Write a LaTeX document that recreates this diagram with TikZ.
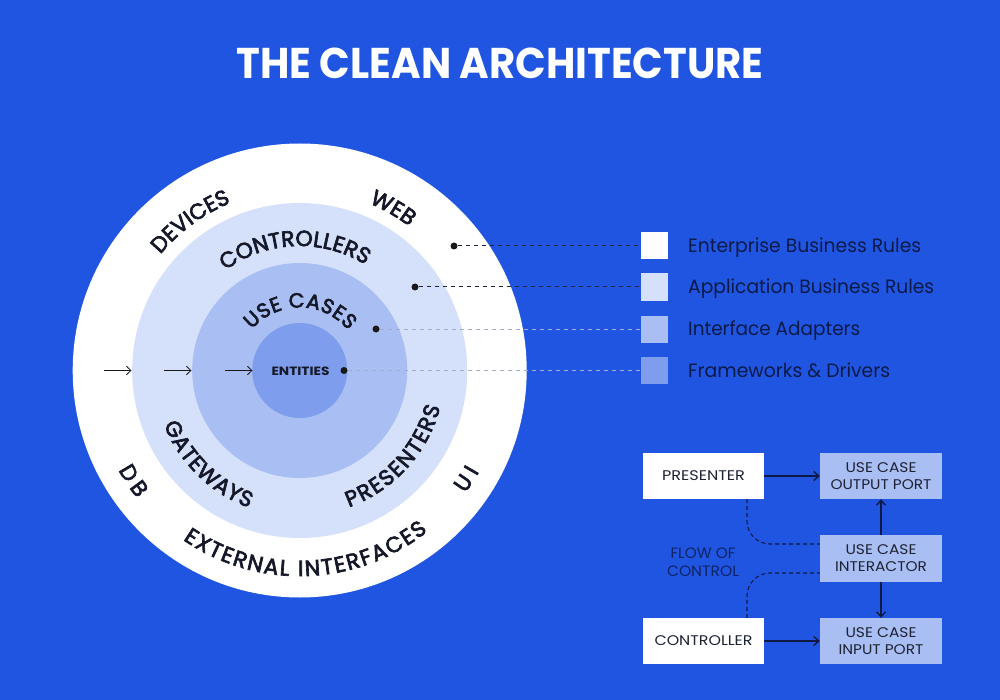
\documentclass[tikz,border=0pt]{standalone}
\usepackage{fontspec}
\setmainfont{Poppins}
\newfontfamily\labfont{Poppins}[FakeBold=3]
\usepackage{graphicx}
\usetikzlibrary{arrows.meta,decorations.text,calc}
\definecolor{bg}{HTML}{1F55E0}
\definecolor{ringA}{HTML}{D5E0FA}
\definecolor{ringB}{HTML}{A9BEF3}
\definecolor{ringC}{HTML}{7E9DEC}
\definecolor{labc}{HTML}{141828}
\definecolor{navy}{HTML}{0C1A48}
\definecolor{dashgray}{HTML}{A3ADC9}
\definecolor{dashdark}{HTML}{1C2238}
\definecolor{boxtext}{HTML}{1E2233}
\definecolor{flowtext}{HTML}{0F2466}
\definecolor{arrowc}{HTML}{0E1A45}
\newlength\fitlen
\newcommand\fitt[3]{{\fontsize{#2}{#2}\selectfont\settowidth\fitlen{#3}\pgfmathsetmacro\fitxs{#1/\fitlen}\scalebox{\fitxs}[1]{#3}}}
\newcommand\clab{\labfont\fontsize{22}{25}\selectfont}
\newcommand\clabsmall{\labfont\fontsize{20.5}{24}\selectfont}
\tikzset{
  arctext/.style={decorate, decoration={text along path, text={|\clab|#1}, text align={fit to path}, text color=labc}},
  arctextsmall/.style={decorate, decoration={text along path, text={|\clabsmall|#1}, text align={fit to path}, text color=labc}},
  sq/.style={minimum size=27pt, inner sep=0, draw=none},
  dot/.style={circle, fill=black!90, minimum size=7pt, inner sep=0},
  legtext/.style={anchor=base west, inner sep=0, text=navy},
  legdash/.style={line width=1pt, dash pattern=on 4.5pt off 3.5pt},
  wbox/.style={fill=white, minimum width=121pt, minimum height=46pt, inner sep=0, text=boxtext, font=\fontsize{14}{17}\selectfont, align=center},
  pbox/.style={wbox, fill=ringB, minimum width=122pt},
  flowarr/.style={draw=arrowc, line width=1.4pt, -{Straight Barb[length=5pt,width=9pt]}},
  flowdash/.style={draw=arrowc, line width=1.1pt, dash pattern=on 4pt off 3pt, rounded corners=23pt},
  inarr/.style={draw=black!90, line width=0.8pt, -{Straight Barb[length=4.5pt,width=8.5pt]}}
}
\begin{document}
\begin{tikzpicture}[x=1pt,y=1pt]
\fill[bg] (0,0) rectangle (1000,-700);
\useasboundingbox (0,0) rectangle (1000,-700);
% title
\node[text=white, inner sep=0] (title) at (500,-63) {\fitt{527}{43}{\bfseries THE CLEAN ARCHITECTURE}};
% circles
\coordinate (C) at (299.7,-370.5);
\fill[white] (C) circle[radius=227];
\fill[ringA] (C) circle[radius=167.5];
\fill[ringB] (C) circle[radius=107.5];
\fill[ringC] (C) circle[radius=47.5];
% curved labels (top)
\path[arctext=CONTROLLERS] ([shift={(126.6:124.5)}]C) arc[start angle=126.6, end angle=60.3, radius=124.5];
\path[arctextsmall=USE CASES] ([shift={(139.5:63)}]C) arc[start angle=139.5, end angle=39.5, radius=63];
\path[arctext=DEVICES] ([shift={(140.2:181.3)}]C) arc[start angle=140.2, end angle=112.5, radius=181.3];
\path[arctext=WEB] ([shift={(67.5:181)}]C) arc[start angle=67.5, end angle=52.7, radius=181];
% curved labels (bottom)
\path[arctext=EXTERNAL INTERFACES] ([shift={(235.4:205.6)}]C) arc[start angle=235.4, end angle=308.5, radius=205.6];
\path[arctext=DB] ([shift={(208.8:206.8)}]C) arc[start angle=208.8, end angle=218.2, radius=206.8];
\path[arctext=UI] ([shift={(323.4:206)}]C) arc[start angle=323.4, end angle=330.6, radius=206];
\path[arctext=GATEWAYS] ([shift={(201.7:146.3)}]C) arc[start angle=201.7, end angle=249.8, radius=146.3];
\path[arctext=PRESENTERS] ([shift={(289.8:145.3)}]C) arc[start angle=289.8, end angle=345.4, radius=145.3];
% entities
\node[text=labc, inner sep=0] (entities) at (300.5,-371.5) {\fitt{58}{12}{\bfseries ENTITIES}};
% left arrows
\coordinate (a1s) at (104,-370.5); \coordinate (a1e) at (131.5,-370.5);
\coordinate (a2s) at (164,-370.5); \coordinate (a2e) at (191.5,-370.5);
\coordinate (a3s) at (225,-370.5); \coordinate (a3e) at (252.5,-370.5);
\draw[inarr] (a1s) -- (a1e);
\draw[inarr] (a2s) -- (a2e);
\draw[inarr] (a3s) -- (a3e);
% legend
\node[sq, fill=white] (s1) at (654.5,-246) {};
\node[sq, fill=ringA] (s2) at (654.5,-287) {};
\node[sq, fill=ringB] (s3) at (654.5,-329) {};
\node[sq, fill=ringC] (s4) at (654.5,-370.5) {};
\node[legtext] (t1) at (688,-252.75) {\fitt{233}{19.3}{Enterprise Business Rules}};
\node[legtext] (t2) at (688,-293.75) {\fitt{246}{19.3}{Application Business Rules}};
\node[legtext] (t3) at (688,-335.75) {\fitt{172}{19.3}{Interface Adapters}};
\node[legtext] (t4) at (688,-377.25) {\fitt{202}{19.3}{Frameworks \& Drivers}};
\node[dot] (d1) at (454,-246) {};
\node[dot] (d2) at (415,-287) {};
\node[dot] (d3) at (376,-329) {};
\node[dot] (d4) at (344,-370.5) {};
\draw[legdash, draw=dashdark] (d1) -- (s1);
\draw[legdash, draw=dashdark] (d2) -- (s2);
\draw[legdash, draw=dashgray] (d3) -- (s3);
\draw[legdash, draw=dashgray] (d4) -- (s4);
% flow diagram
\node[wbox] (presenter) at (703.5,-476) {\fitt{83}{14}{PRESENTER}};
\node[pbox] (outport) at (881,-476) {\fitt{71}{14}{USE CASE}\\\fitt{101}{14}{OUTPUT PORT}};
\node[pbox, minimum height=47pt] (interactor) at (881,-558.5) {\fitt{71}{14}{USE CASE}\\\fitt{92}{14}{INTERACTOR}};
\node[wbox] (controller) at (703.5,-641) {\fitt{98}{14}{CONTROLLER}};
\node[pbox] (inport) at (881,-641) {\fitt{71}{14}{USE CASE}\\\fitt{85}{14}{INPUT PORT}};
\node[font=\fontsize{15}{18}\selectfont, text=flowtext, align=center, inner sep=0] (flow) at (703,-562) {\fitt{65}{15}{FLOW OF}\\\fitt{72}{15}{CONTROL}};
\draw[flowarr] (presenter) -- (outport);
\draw[flowarr] (interactor) -- (outport);
\draw[flowarr] (interactor) -- (inport);
\draw[flowarr] (controller) -- (inport);
\draw[flowdash] ([xshift=43.5pt]presenter.south) |- ([yshift=14.5pt]interactor.west);
\draw[flowdash] ([xshift=43.5pt]controller.north) |- ([yshift=-14.5pt]interactor.west);
\end{tikzpicture}
\end{document}
